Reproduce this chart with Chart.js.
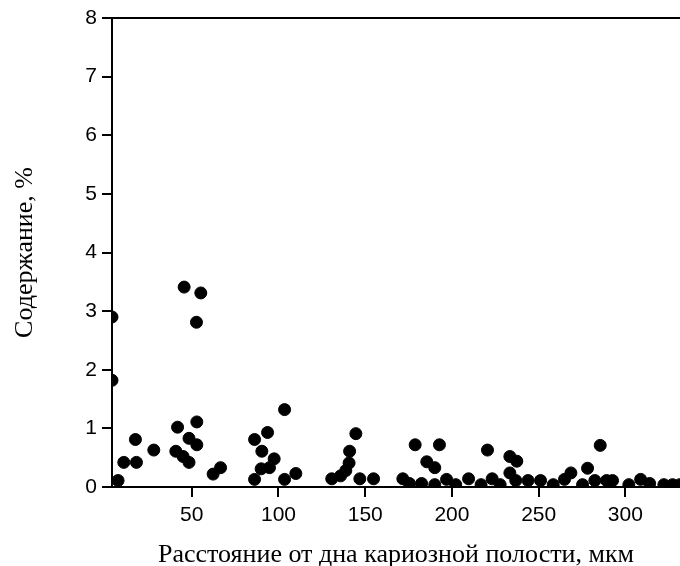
<!DOCTYPE html>
<html>
<head>
<meta charset="utf-8">
<script src="https://cdn.jsdelivr.net/npm/chart.js@4/dist/chart.umd.min.js"></script>
<style>
    html, body { margin: 0; padding: 0; background: #fff; }
    #wrap { width: 680px; height: 566px; }
</style>
</head>
<body>
<div id="wrap"><canvas id="chart" width="680" height="566"></canvas></div>
<script>
// distance from the cavity floor, um
const distances = [
    4, 4, 7.5, 10.8, 17.5, 18.1, 28.1, 45.6, 55.2, 52.7,
    41.8, 52.9, 40.8, 45, 48.4, 48.4, 52.9, 62.3, 66.6, 86.2,
    86.2, 90.4, 93.7, 90, 94.8, 97.5, 103.5, 103.5, 110, 130.7,
    135.8, 138.8, 140.7, 141, 144.6, 146.9, 154.8, 171.7, 175.5, 178.8,
    182.5, 185.5, 190.1, 190.1, 192.8, 196.9, 202.2, 209.6, 216.8, 220.5,
    223.2, 227.8, 233.4, 237.4, 233.4, 236.8, 243.9, 251.1, 258.4, 264.9,
    268.6, 275.3, 278.2, 282.4, 285.5, 289.2, 292.6, 302, 308.8, 314,
    322.2, 327.2, 331.4
];
// content, %
const contents = [
    2.9, 1.82, 0.11, 0.42, 0.81, 0.42, 0.63, 3.41, 3.31, 2.81,
    1.02, 1.11, 0.61, 0.52, 0.42, 0.83, 0.72, 0.22, 0.33, 0.81,
    0.13, 0.61, 0.93, 0.31, 0.33, 0.48, 1.32, 0.13, 0.23, 0.14,
    0.19, 0.28, 0.41, 0.61, 0.91, 0.14, 0.14, 0.14, 0.06, 0.72,
    0.06, 0.43, 0.33, 0.04, 0.72, 0.13, 0.04, 0.14, 0.04, 0.63,
    0.14, 0.04, 0.52, 0.44, 0.24, 0.11, 0.11, 0.11, 0.04, 0.13,
    0.24, 0.04, 0.32, 0.11, 0.71, 0.11, 0.11, 0.04, 0.13, 0.06,
    0.04, 0.04, 0.04
];
const xTicks = [50, 100, 150, 200, 250, 300];
const xTitle = 'Расстояние от дна кариозной полости, мкм';
const yTitle = 'Содержание, %';

const tickFont = { family: '"Liberation Sans Narrow", "Liberation Sans", Arial, sans-serif', size: 21 };
const titleFont = { family: '"Liberation Serif", "Times New Roman", serif', size: 26, lineHeight: 0.8 };

// top frame line
const topLine = {
    id: 'topLine',
    afterDraw(chart) {
        const { ctx, chartArea } = chart;
        ctx.save();
        ctx.strokeStyle = '#000';
        ctx.lineWidth = 2;
        ctx.beginPath();
        ctx.moveTo(chartArea.left - 10, chartArea.top);
        ctx.lineTo(chartArea.right, chartArea.top);
        ctx.stroke();
        ctx.restore();
    }
};

new Chart(document.getElementById('chart'), {
    type: 'scatter',
    data: {
        datasets: [{
            data: distances.map((d, i) => ({ x: d, y: contents[i] })),
            backgroundColor: '#000',
            borderColor: '#000',
            pointRadius: 6,
            pointHoverRadius: 6,
            clip: 0
        }]
    },
    options: {
        responsive: false,
        animation: false,
        layout: { autoPadding: false, padding: { left: 11, right: 0, top: 18, bottom: 0 } },
        plugins: { legend: { display: false }, tooltip: { enabled: false } },
        scales: {
            x: {
                type: 'linear',
                min: 4,
                max: 331.5,
                afterBuildTicks: scale => { scale.ticks = xTicks.map(v => ({ value: v })); },
                afterFit: scale => {
                    scale.height = 79;
                    scale.paddingLeft = 0;
                    scale.paddingRight = 0;
                },
                border: { color: '#000', width: 2 },
                grid: { drawOnChartArea: false, color: '#000', lineWidth: 2, tickLength: 10 },
                ticks: { color: '#000', font: tickFont, padding: 6, autoSkip: false, maxRotation: 0 },
                title: { display: true, text: xTitle, color: '#000', font: titleFont, padding: { top: 0, bottom: 0 } }
            },
            y: {
                min: 0,
                max: 8,
                afterFit: scale => { scale.width = 101; },
                border: { color: '#000', width: 2 },
                grid: { drawOnChartArea: false, color: '#000', lineWidth: 2, tickLength: 10 },
                ticks: { color: '#000', font: tickFont, stepSize: 1, padding: 5 },
                title: { display: true, text: yTitle, color: '#000', font: titleFont, padding: { top: 4, bottom: 0 } }
            }
        }
    },
    plugins: [topLine]
});
</script>
</body>
</html>
